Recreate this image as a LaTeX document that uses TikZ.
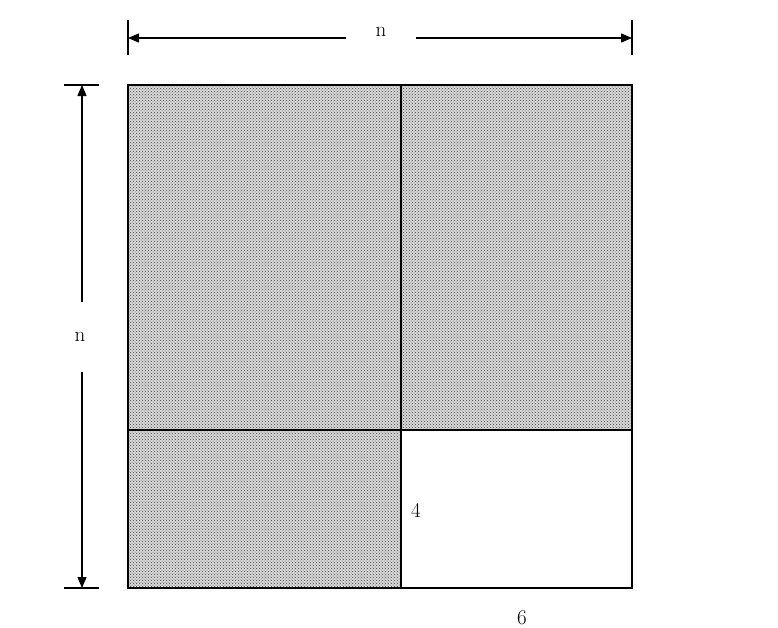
\documentclass[tikz,border=0pt]{standalone}
\usepackage{tikz}
\usetikzlibrary{arrows.meta,patterns}
\begin{document}
\begin{tikzpicture}[x=1pt, y=-1pt, >={Triangle[length=11pt,width=9pt]}]
\tikzstyle{shaded}=[draw=none, pattern=crosshatch dots, pattern color=black!75]
\tikzstyle{dimline}=[line width=1.3pt]
\tikzstyle{lbl}=[fill=white, font=\fontsize{21}{24}\selectfont]
\useasboundingbox (0,0) rectangle (778,627);
% corners of the square
\coordinate (tl) at (128,85);
\coordinate (tr) at (632,85);
\coordinate (bl) at (128,588);
\coordinate (br) at (632,588);
\coordinate (mid) at (401,430);

\fill[gray!30] (tl) rectangle (br);
\fill[white] (mid) rectangle (br);
\path[shaded] (tl) rectangle (mid);
\path[shaded] (401,85) rectangle (632,430);
\path[shaded] (128,430) rectangle (401,588);
\draw[line width=1.3pt] (tl) rectangle (br);
\draw[line width=1.3pt] (401,85) -- (401,588);
\draw[line width=1.3pt] (128,430) -- (632,430);

% top dimension
\coordinate (t1a) at (128,20);
\coordinate (t1b) at (128,55);
\coordinate (t2a) at (632,20);
\coordinate (t2b) at (632,55);
\coordinate (ta) at (128,38);
\coordinate (tb) at (632,38);
\draw[dimline] (t1a) -- (t1b);
\draw[dimline] (t2a) -- (t2b);
\draw[dimline,<->] (ta) -- (tb);
\node[lbl, inner xsep=30pt, inner ysep=8pt] (ntop) at (381,32) {n};

% left dimension
\coordinate (l1a) at (64,85);
\coordinate (l1b) at (99,85);
\coordinate (l2a) at (64,588);
\coordinate (l2b) at (99,588);
\coordinate (la) at (82,85);
\coordinate (lb) at (82,588);
\draw[dimline] (l1a) -- (l1b);
\draw[dimline] (l2a) -- (l2b);
\draw[dimline,<->] (la) -- (lb);
\node[lbl, inner xsep=6pt, inner ysep=30pt] (nleft) at (80,337) {n};

\node[font=\fontsize{21}{24}\selectfont] (four) at (416,510) {4};
\node[font=\fontsize{21}{24}\selectfont] (six) at (522,618) {6};
\end{tikzpicture}
\end{document}
